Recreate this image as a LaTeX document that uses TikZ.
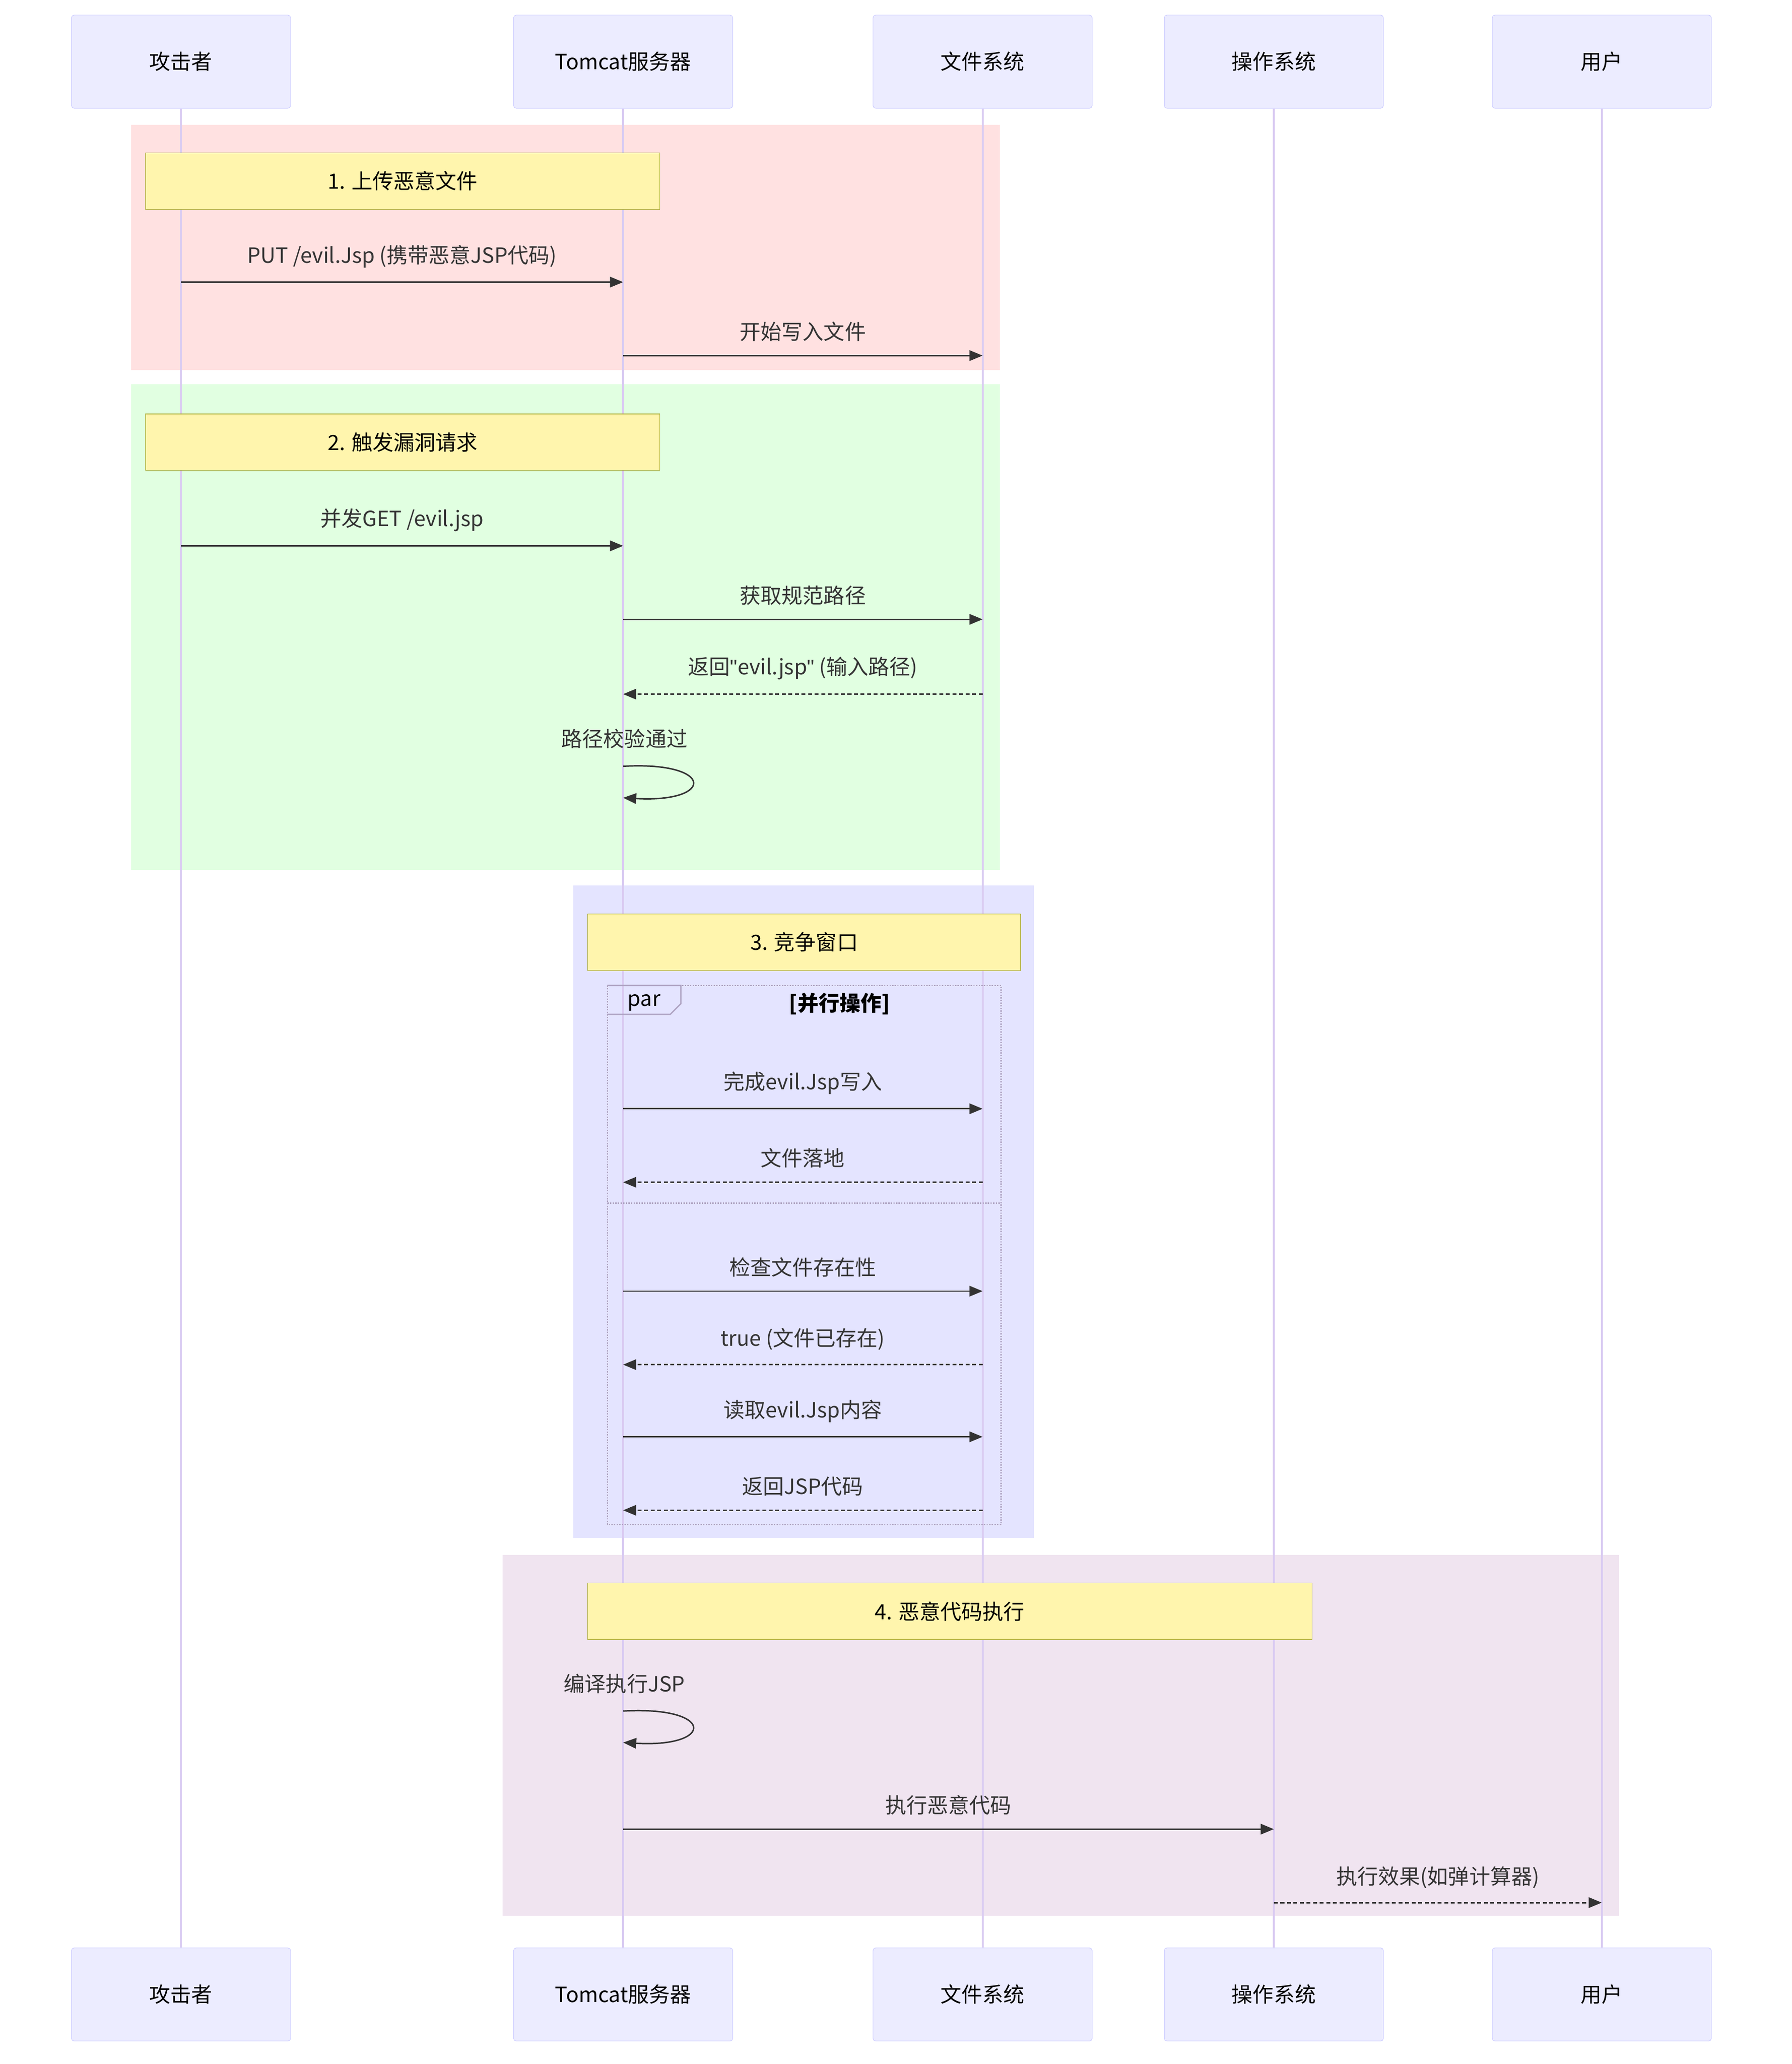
\documentclass[tikz,border=0pt]{standalone}
\usepackage{fontspec}
\setmainfont{Noto Sans CJK SC}
\newfontfamily\qfont{Liberation Sans}
\usetikzlibrary{arrows.meta}
\definecolor{actfill}{RGB}{236,236,255}
\definecolor{actline}{RGB}{204,204,255}
\definecolor{lifeline}{RGB}{218,204,242}
\definecolor{notefill}{RGB}{255,245,173}
\definecolor{noteline}{RGB}{170,170,51}
\definecolor{msg}{RGB}{51,51,51}
\definecolor{phaseA}{RGB}{255,225,225}
\definecolor{phaseB}{RGB}{225,255,225}
\definecolor{phaseC}{RGB}{228,228,255}
\definecolor{phaseD}{RGB}{240,228,240}
\tikzset{
  actor/.style={draw=actline, fill=actfill, rounded corners=2pt, minimum width=167pt, minimum height=71pt, font=\fontsize{16}{19}\selectfont},
  note/.style={draw=noteline, fill=notefill, minimum height=43pt, font=\fontsize{16}{19}\selectfont},
  call/.style={draw=msg, line width=1.1pt, -{Triangle[length=10pt,width=8pt]}},
  reply/.style={call, dash pattern=on 3pt off 2pt},
  lbl/.style={font=\fontsize{16}{19}\selectfont, text=msg},
  life/.style={draw=lifeline, line width=1.5pt}
}
\begin{document}
\begin{tikzpicture}[x=1pt,y=-1pt]
\useasboundingbox (0,0) rectangle (1366,1573);
% phase backgrounds
\fill[phaseA] (100,95) rectangle (762,282);
\fill[phaseB] (100,293) rectangle (762,663);
\fill[phaseC] (437,675) rectangle (788,1172);
\fill[phaseD] (383,1185) rectangle (1234,1460);
% lifelines
\foreach \n/\x/\t in {atk/138/攻击者, tom/475/Tomcat服务器, fs/749/文件系统, os/971/操作系统, usr/1221/用户}{
  \node[actor] (\n T) at (\x,47) {\t};
  \node[actor] (\n B) at (\x,1520) {\t};
  \draw[life] (\n T) -- (\n B);
}
% notes
\node[note, minimum width=392pt] (n1) at (307,138) {1. 上传恶意文件};
\node[note, minimum width=392pt] (n2) at (307,337) {2. 触发漏洞请求};
\node[note, minimum width=330pt] (n3) at (613,718) {3. 竞争窗口};
\node[note, minimum width=552pt] (n4) at (724,1228) {4. 恶意代码执行};
% par block
\draw[lifeline!80!black, densely dotted, line width=1pt] (463,751) rectangle (763,1162);
\draw[lifeline!80!black, densely dotted, line width=1pt] (463,917) -- (763,917);
\draw[lifeline!80!black, line width=1pt] (463,751) -- (519,751) -- (519,765) -- (511,773) -- (463,773);
\node[lbl, text=black] (par) at (491,764) {par};
\node[lbl, text=black, font=\fontsize{16}{19}\selectfont\bfseries] (parl) at (640,765) {[并行操作]};
% messages
\draw[call] (atkT |- 0,215) -- node[lbl, above=7pt] {PUT /evil.Jsp (携带恶意JSP代码)} (tomT |- 0,215);
\draw[call] (tomT |- 0,271) -- node[lbl, above=7pt] {开始写入文件} (fsT |- 0,271);
\draw[call] (atkT |- 0,416) -- node[lbl, above=7pt] {并发GET /evil.jsp} (tomT |- 0,416);
\draw[call] (tomT |- 0,472) -- node[lbl, above=7pt] {获取规范路径} (fsT |- 0,472);
\draw[reply] (fsT |- 0,529) -- node[lbl, above=7pt] {返回{\qfont"}evil.jsp{\qfont"} (输入路径)} (tomT |- 0,529);
\node[lbl] (chk) at (476,563) {路径校验通过};
\draw[call] (tomT |- 0,584) .. controls (545,580) and (545,612) .. (tomT |- 0,608);
\draw[call] (tomT |- 0,845) -- node[lbl, above=7pt] {完成evil.Jsp写入} (fsT |- 0,845);
\draw[reply] (fsT |- 0,901) -- node[lbl, above=7pt] {文件落地} (tomT |- 0,901);
\draw[call] (tomT |- 0,984) -- node[lbl, above=7pt] {检查文件存在性} (fsT |- 0,984);
\draw[reply] (fsT |- 0,1040) -- node[lbl, above=7pt] {true (文件已存在)} (tomT |- 0,1040);
\draw[call] (tomT |- 0,1095) -- node[lbl, above=7pt] {读取evil.Jsp内容} (fsT |- 0,1095);
\draw[reply] (fsT |- 0,1151) -- node[lbl, above=7pt] {返回JSP代码} (tomT |- 0,1151);
\node[lbl] (cmp) at (476,1283) {编译执行JSP};
\draw[call] (tomT |- 0,1304) .. controls (545,1300) and (545,1332) .. (tomT |- 0,1328);
\draw[call] (tomT |- 0,1394) -- node[lbl, above=7pt] {执行恶意代码} (osT |- 0,1394);
\draw[reply] (osT |- 0,1450) -- node[lbl, above=7pt] {执行效果(如弹计算器)} (usrT |- 0,1450);
\end{tikzpicture}
\end{document}
